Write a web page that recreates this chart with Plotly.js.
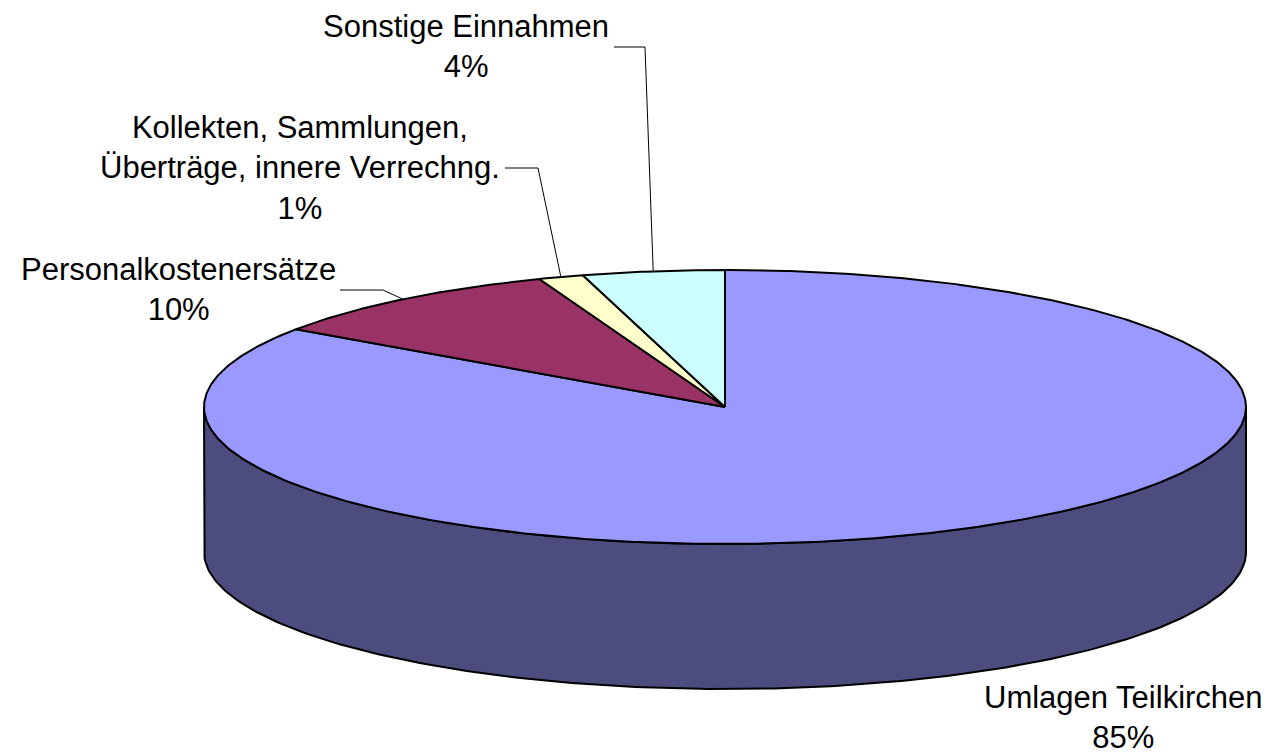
<!DOCTYPE html>
<html>
<head>
<meta charset="utf-8">
<script src="https://cdn.plot.ly/plotly-3.0.1.min.js"></script>
<style>html,body{margin:0;padding:0;background:#fff;}#chart{width:1277px;height:754px;}</style>
</head>
<body>
<div id="chart"></div>
<script>
// ---- data ----
const categories = ['Umlagen Teilkirchen', 'Personalkostenersätze', 'Kollekten, Sammlungen,<br>Überträge, innere Verrechng.', 'Sonstige Einnahmen'];
const values = [84.6, 9.6, 1.4, 4.4];
const topColors = ['#9999FF', '#993366', '#FFFFCC', '#CCFFFF'];
const sideColors = ['#4C4C7E', '#4D1A33', '#808066', '#668080'];

// ---- layout geometry (pixels) ----
const W = 1277, H = 754;
const cx = 725, cy = 407, rx = 521, ry = 137, depth = 145;
// label block centres and leader elbows
const labelPos = [
  {x: 1123, y: 717, leader: null},
  {x: 178, y: 289, leader: [[340, 290], [383, 290]]},
  {x: 300, y: 168, leader: [[505, 168], [538, 168]]},
  {x: 466, y: 46, leader: [[614, 47], [645, 47]]}
];

const total = values.reduce((a, b) => a + b, 0);
function pt(t, dy) { return [cx + rx * Math.sin(t), cy - ry * Math.cos(t) + (dy || 0)]; }

const traces = [];
const slices = [];
let acc = 0;
values.forEach((v, i) => {
  const a0 = acc / total * 2 * Math.PI;
  acc += v;
  const a1 = acc / total * 2 * Math.PI;
  slices.push({a0, a1, i});
});

// side walls (front half: angles PI/2 .. 3PI/2)
slices.forEach(s => {
  const lo = Math.max(s.a0, Math.PI / 2), hi = Math.min(s.a1, 3 * Math.PI / 2);
  if (hi <= lo) return;
  const xs = [], ys = [];
  const n = 200;
  for (let k = 0; k <= n; k++) { const t = lo + (hi - lo) * k / n; const p = pt(t, 0); xs.push(p[0]); ys.push(p[1]); }
  for (let k = n; k >= 0; k--) { const t = lo + (hi - lo) * k / n; const p = pt(t, depth); xs.push(p[0]); ys.push(p[1]); }
  xs.push(xs[0]); ys.push(ys[0]);
  traces.push({type: 'scatter', mode: 'lines', x: xs, y: ys, fill: 'toself', fillcolor: sideColors[s.i],
    line: {color: '#000', width: 2}, hoverinfo: 'skip', showlegend: false});
});

// top faces
slices.forEach(s => {
  const xs = [cx], ys = [cy];
  const n = Math.max(8, Math.ceil((s.a1 - s.a0) * 120));
  for (let k = 0; k <= n; k++) { const t = s.a0 + (s.a1 - s.a0) * k / n; const p = pt(t, 0); xs.push(p[0]); ys.push(p[1]); }
  xs.push(cx); ys.push(cy);
  traces.push({type: 'scatter', mode: 'lines', x: xs, y: ys, fill: 'toself', fillcolor: topColors[s.i],
    line: {color: '#000', width: 2}, hoverinfo: 'skip', showlegend: false});
});

// leader lines
slices.forEach(s => {
  const lp = labelPos[s.i];
  if (!lp.leader) return;
  const mid = pt((s.a0 + s.a1) / 2, 0);
  traces.push({type: 'scatter', mode: 'lines',
    x: [lp.leader[0][0], lp.leader[1][0], mid[0]],
    y: [lp.leader[0][1], lp.leader[1][1], mid[1]],
    line: {color: '#000', width: 1}, hoverinfo: 'skip', showlegend: false});
});

const annotations = slices.map(s => ({
  x: labelPos[s.i].x, y: labelPos[s.i].y, xref: 'x', yref: 'y',
  text: categories[s.i] + '<br>' + Math.round(values[s.i] / total * 100 + 1e-9) + '%',
  showarrow: false, xanchor: 'center', yanchor: 'middle', align: 'center',
  font: {family: 'Liberation Sans, Arial, sans-serif', size: 31, color: '#000'}
}));

const layout = {
  width: W, height: H,
  margin: {l: 0, r: 0, t: 0, b: 0},
  paper_bgcolor: '#fff', plot_bgcolor: '#fff',
  xaxis: {range: [0, W], visible: false, fixedrange: true},
  yaxis: {range: [H, 0], visible: false, fixedrange: true},
  annotations: annotations,
  showlegend: false,
  hovermode: false
};

Plotly.newPlot('chart', traces, layout, {staticPlot: true, displayModeBar: false});
</script>
</body>
</html>
